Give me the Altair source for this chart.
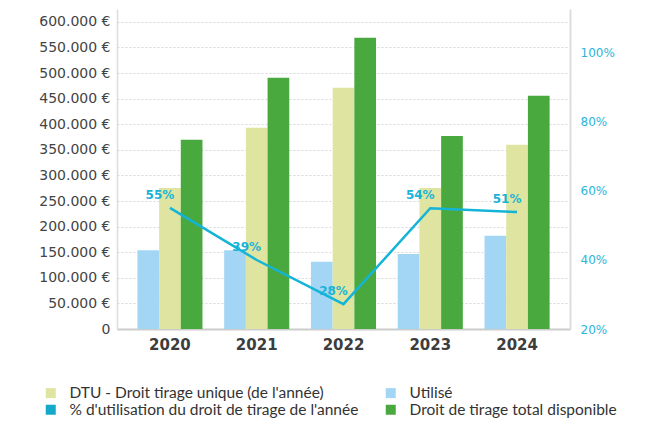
import altair as alt
import pandas as pd

years = ["2020", "2021", "2022", "2023", "2024"]
utilise = [154000, 154000, 131500, 146500, 182000]
dtu = [275500, 393000, 471000, 275500, 360000]
total = [369500, 490500, 569000, 377000, 455500]
pct_line = [55.1, 40.0, 27.2, 55.0, 53.9]
pct_labels = ["55%", "39%", "28%", "54%", "51%"]

S_DTU = "DTU - Droit tirage unique (de l'année)"
S_UT = "Utilisé"
S_PCT = "% d'utilisation du droit de tirage de l'année"
S_TOT = "Droit de tirage total disponible"
legend_order = [S_DTU, S_PCT, S_UT, S_TOT]
legend_colors = ["#dfe5a0", "#14a9c9", "#a3d6f5", "#49a93e"]
offset_order = [S_UT, S_DTU, S_TOT]

rows = []
for i, yr in enumerate(years):
    rows.append({"year": yr, "series": S_UT, "value": utilise[i]})
    rows.append({"year": yr, "series": S_DTU, "value": dtu[i]})
    rows.append({"year": yr, "series": S_TOT, "value": total[i]})
bars_df = pd.DataFrame(rows)
line_df = pd.DataFrame({"year": years, "pct": pct_line, "label": pct_labels})

x_scale = alt.Scale(domain=years, paddingInner=0.25, paddingOuter=0.235)
x_axis = alt.Axis(title=None, labelAngle=0, labelFont="DejaVu Sans", labelFontSize=15,
                  labelFontWeight="bold", labelColor="#3d3d3d", labelPadding=8,
                  domainColor="#cccccc", domainWidth=2, ticks=False, grid=False)

pct_scale = alt.Scale(domain=[20, 112.75], nice=False, zero=False)

bars = alt.Chart(bars_df).mark_bar().encode(
    x=alt.X("year:N", scale=x_scale, axis=x_axis),
    xOffset=alt.XOffset("series:N", scale=alt.Scale(domain=offset_order, paddingInner=0, paddingOuter=0)),
    y=alt.Y("value:Q",
            scale=alt.Scale(domain=[0, 625000], nice=False),
            axis=alt.Axis(values=list(range(0, 600001, 50000)),
                          labelExpr="datum.value == 0 ? '0' : format(datum.value/1000, 'd') + '.000 €'",
                          title=None, grid=True, gridDash=[2, 2], gridColor="#d6d6d6",
                          domainColor="#dddddd", domainWidth=1.5, ticks=False,
                          labelFont="DejaVu Sans", labelFontSize=14, labelColor="#444444",
                          labelPadding=7)),
    color=alt.Color("series:N",
                    scale=alt.Scale(domain=legend_order, range=legend_colors),
                    legend=alt.Legend(title=None, orient="none", legendX=-74, legendY=376,
                                      columns=2, symbolType="square", symbolSize=100,
                                      symbolStrokeWidth=0, labelFont="Lato", labelFontSize=15.5,
                                      labelColor="#333333", labelOffset=11, columnPadding=24,
                                      rowPadding=0, padding=0, labelLimit=400)),
)

line = alt.Chart(line_df).mark_line(color="#14b4d6", strokeWidth=2.5).encode(
    x=alt.X("year:N", scale=x_scale, axis=x_axis),
    y=alt.Y("pct:Q", scale=pct_scale,
            axis=alt.Axis(orient="right", values=[20, 40, 60, 80, 100],
                          labelExpr="datum.value + '%'", title=None, grid=False, ticks=False,
                          domainColor="#dddddd", domainWidth=2, labelColor="#2bb5d8",
                          labelFont="DejaVu Sans", labelFontSize=12, labelPadding=10)),
)

text = alt.Chart(line_df).mark_text(color="#1ab3d8", font="DejaVu Sans", fontSize=12,
                                    fontWeight="bold", dx=-10, dy=-13).encode(
    x=alt.X("year:N", scale=x_scale, axis=x_axis),
    y=alt.Y("pct:Q", scale=pct_scale, axis=None),
    text="label:N",
)

chart = alt.layer(bars, line, text).resolve_scale(y="independent").properties(
    width=453, height=320,
    padding={"left": 109, "top": 1, "right": 77, "bottom": 90},
    autosize="none",
).configure_view(stroke=None)

chart.save("out.html", embed_options={"renderer": "svg", "actions": False})
